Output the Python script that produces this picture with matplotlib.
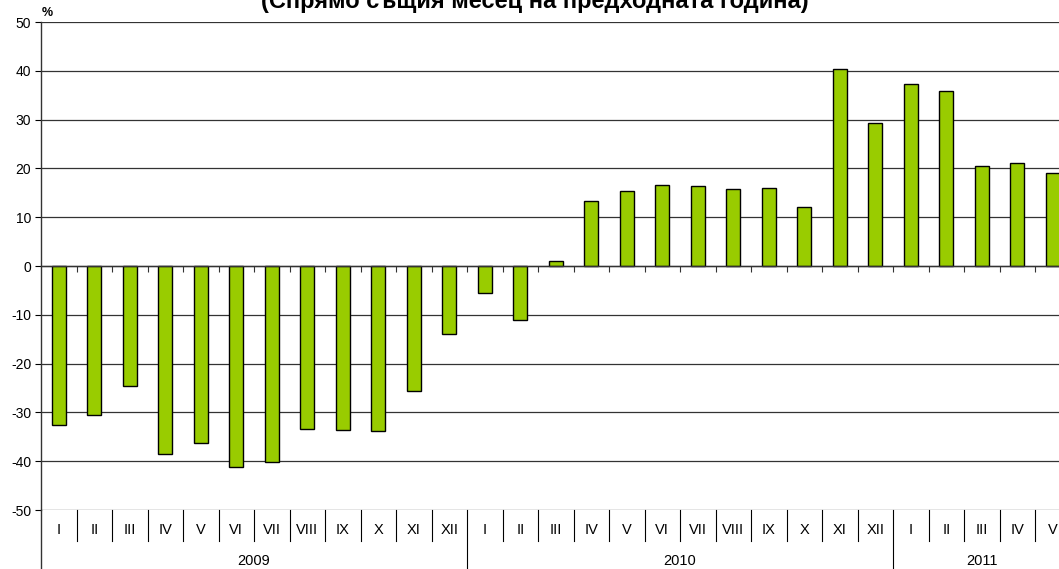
import matplotlib
matplotlib.use("Agg")
import matplotlib.pyplot as plt
from matplotlib.ticker import MultipleLocator

plt.rcParams['font.family'] = ['Liberation Sans', 'DejaVu Sans']
plt.rcParams['axes.unicode_minus'] = False

months = ["I", "II", "III", "IV", "V", "VI", "VII", "VIII", "IX", "X", "XI", "XII",
          "I", "II", "III", "IV", "V", "VI", "VII", "VIII", "IX", "X", "XI", "XII",
          "I", "II", "III", "IV", "V"]
years = ["2009", "2010", "2011"]
year_counts = [12, 12, 5]
values = [-32.5, -30.5, -24.5, -38.5, -36.2, -41.2, -40.2, -33.5, -33.7, -33.9, -25.7, -14.0,
          -5.5, -11.1, 1.0, 13.3, 15.3, 16.7, 16.4, 15.7, 16.0, 12.0, 40.4, 29.4,
          37.3, 35.9, 20.4, 21.2, 19.0]
title = "(Спрямо същия месец на предходната година)"

W, H = 1059, 569
fig = plt.figure(figsize=(W / 100, H / 100), dpi=100)
left, top, bottom = 41, 22, 510
cat_w = 35.5
n = len(values)
ax = fig.add_axes([left / W, 1 - bottom / H, n * cat_w / W, (bottom - top) / H])

x = list(range(n))
ax.bar(x, values, width=0.4, color='#99CC00', edgecolor='black', linewidth=1.0, zorder=3)

ax.set_xlim(-0.5, n - 0.5)
ax.set_ylim(-50, 50)
ax.yaxis.set_major_locator(MultipleLocator(10))
ax.grid(axis='y', color='#333333', linewidth=0.9, zorder=1)
ax.tick_params(axis='y', direction='out', length=4, width=0.8, labelsize=10, pad=3, colors='black')

for s in ['top', 'right']:
    ax.spines[s].set_visible(False)
ax.spines['left'].set_color('#333333')
ax.spines['left'].set_linewidth(1.0)
ax.spines['bottom'].set_position(('data', 0))
ax.spines['bottom'].set_color('#333333')
ax.spines['bottom'].set_linewidth(1.0)
ax.spines['bottom'].set_zorder(4)
ax.set_xticks([i + 0.5 for i in range(n - 1)])
ax.set_xticklabels([])
ax.tick_params(axis='x', direction='out', length=4, width=0.8, colors='#333333')

trans = ax.get_xaxis_transform()
ah = bottom - top
month_sep = -31 / ah
year_sep = -(H - bottom) / ah
ax.plot([-0.5, -0.5], [0, year_sep], transform=trans, color='#333333', lw=1.0, clip_on=False)
year_bounds = []
acc = 0
for c in year_counts:
    acc += c
    year_bounds.append(acc)
for i in range(1, n):
    b = i - 0.5
    if i in year_bounds:
        ax.plot([b, b], [0, year_sep], transform=trans, color='black', lw=0.8, clip_on=False)
    else:
        ax.plot([b, b], [0, month_sep], transform=trans, color='black', lw=0.8, clip_on=False)
for i, m in enumerate(months):
    ax.text(i, -20 / ah, m, transform=trans, ha='center', va='center', fontsize=10.5)
start = 0
for yname, c in zip(years, year_counts):
    ax.text(start + (c - 1) / 2, -51 / ah, yname, transform=trans, ha='center', va='center', fontsize=10.5)
    start += c

ax.text(-0.5 + 1 / cat_w, 1 + 9 / ah, "%", transform=trans, ha='left', va='center',
        fontsize=9, fontweight='bold')
fig.text(535 / W, 1 - 8 / H, title, ha='center', va='baseline', fontsize=17, fontweight='bold')

fig.savefig("out.png", dpi=100)
